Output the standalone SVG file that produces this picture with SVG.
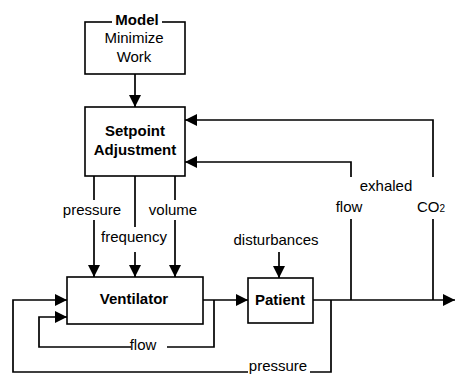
<svg xmlns="http://www.w3.org/2000/svg" width="455" height="375" viewBox="0 0 455 375">
<defs>
<marker id="ah" viewBox="0 0 12 12" refX="12" refY="6" markerWidth="12" markerHeight="12" markerUnits="userSpaceOnUse" orient="auto">
<path d="M0,0 L12,6 L0,12 z" fill="#000"/>
</marker>
</defs>
<style>
.box{fill:#fff;stroke:#000;stroke-width:1.6}
.ln{fill:none;stroke:#000;stroke-width:1.7}
.ar{fill:none;stroke:#000;stroke-width:1.7;marker-end:url(#ah)}
text{font-family:"Liberation Sans",Arial,Helvetica,sans-serif;font-size:15px;fill:#000}
.b{font-weight:bold}
.m{text-anchor:middle}
</style>
<rect width="455" height="375" fill="#fff"/>
<g id="connectors">
<path class="ar" d="M135,74 V107"/>
<path class="ln" d="M433,300 V219"/>
<path class="ar" d="M433,177 V120 H185"/>
<path class="ln" d="M351,300 V219"/>
<path class="ar" d="M351,177 V162 H185"/>
<path class="ln" d="M94,176 V200"/>
<path class="ar" d="M94,220 V277"/>
<path class="ln" d="M135,176 V227"/>
<path class="ar" d="M135,252 V277"/>
<path class="ln" d="M175,176 V200"/>
<path class="ar" d="M175,220 V277"/>
<path class="ar" d="M203,300 H248"/>
<path class="ln" d="M214,300 V347 H167"/>
<path class="ar" d="M131,347 H39 V317 H67"/>
<path class="ln" d="M331,300 V372 H310"/>
<path class="ar" d="M248,372 H13 V300 H67"/>
<path class="ar" d="M313,300 H455"/>
<path class="ar" d="M279,252 V278"/>
<text x="92" y="215" class="m">pressure</text>
<text x="134" y="242" class="m">frequency</text>
<text x="173" y="215" class="m">volume</text>
<text x="386" y="191" class="m">exhaled</text>
<text x="349" y="212" class="m">flow</text>
<text x="417" y="212">CO<tspan font-size="10">2</tspan></text>
<text x="143" y="350" class="m">flow</text>
<text x="278" y="371" class="m">pressure</text>
<text x="276" y="245" class="m">disturbances</text>
</g>
<g id="model">
<rect class="box" x="85" y="22" width="100" height="52"/>
<rect x="112" y="14" width="50" height="14" fill="#fff"/>
<text x="137" y="25" class="m b">Model</text>
<text x="134" y="43" class="m">Minimize</text>
<text x="134" y="62" class="m">Work</text>
</g>
<g id="setpoint">
<rect class="box" x="85" y="107" width="100" height="69"/>
<text x="135" y="136" class="m b">Setpoint</text>
<text x="135" y="155" class="m b">Adjustment</text>
</g>
<g id="ventilator">
<rect class="box" x="67" y="277" width="136" height="47"/>
<text x="134" y="304" class="m b">Ventilator</text>
</g>
<g id="patient">
<rect class="box" x="248" y="278" width="65" height="45"/>
<text x="280" y="305" class="m b">Patient</text>
</g>
</svg>
